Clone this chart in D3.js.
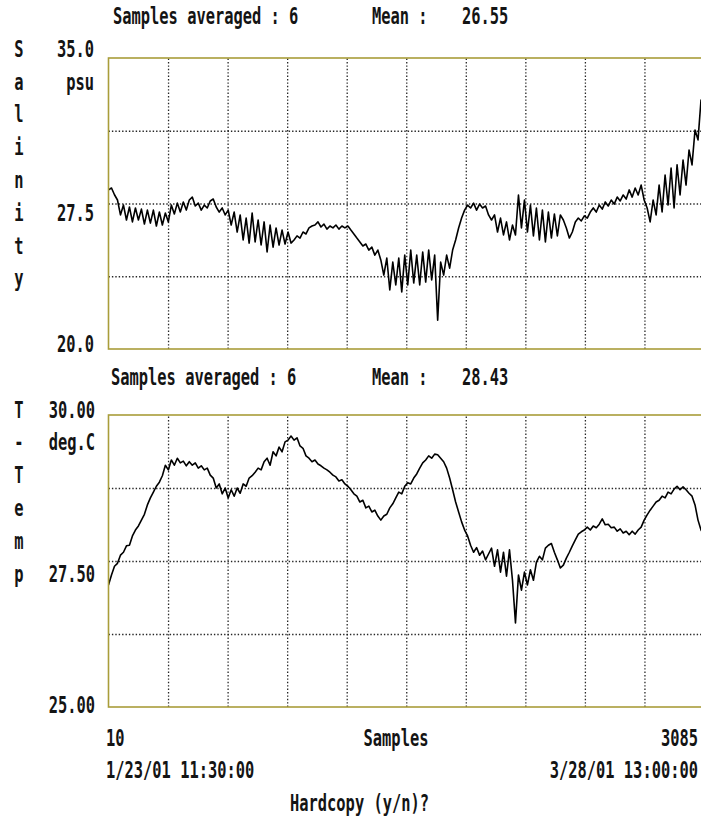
<!DOCTYPE html>
<html><head><meta charset="utf-8">
<script src="https://cdn.jsdelivr.net/npm/d3@7"></script>
<style>body{margin:0;background:#fff;} svg{display:block}</style>
</head><body>
<svg id="c" width="701" height="820"></svg>
<script>
// ---------- data ----------
const sampleRange = [10, 3085];
const startDate = "1/23/01 11:30:00";
const endDate = "3/28/01 13:00:00";
const salinityTicks = ["35.0", "27.5", "20.0"];
const temperatureTicks = ["30.00", "27.50", "25.00"];
const salinityLetters = ["S","a","l","i","n","i","t","y"];
const temperatureLetters = ["T","-","T","e","m","p"];
const headerAveraged = ["6", "6"];
const headerMean = ["26.55", "28.43"];

const salinity = [
28.20,28.30,27.95,27.68,26.91,27.42,26.65,27.32,26.55,27.27,
26.65,27.21,26.44,27.16,26.49,27.16,26.34,27.06,26.39,27.01,
26.55,27.42,26.96,27.52,27.06,27.58,27.16,27.68,27.83,27.37,
27.52,27.16,27.42,27.27,27.63,27.73,27.32,27.06,27.27,26.91,
27.16,26.39,27.06,26.03,26.91,25.62,26.75,25.46,27.01,25.52,
26.65,25.36,26.55,25.00,26.39,25.25,26.24,25.36,26.13,25.41,
26.03,25.46,25.62,25.83,25.72,26.03,25.93,26.24,26.34,26.39,
26.55,26.29,26.44,26.18,26.34,26.24,26.39,26.18,26.34,26.24,
26.34,26.13,25.93,25.72,25.52,25.31,25.41,25.10,25.25,24.84,
25.10,24.59,23.81,24.69,23.04,24.48,23.30,24.69,22.94,24.84,
23.30,25.10,23.40,24.84,23.30,25.00,23.45,25.10,23.56,24.84,
21.49,24.48,23.81,24.84,24.17,25.10,25.62,26.24,26.75,27.16,
27.42,27.27,27.52,27.16,27.47,27.27,27.37,26.91,26.65,26.91,
26.03,26.75,25.88,26.55,25.62,26.39,25.88,27.94,26.24,27.68,
26.03,27.42,25.83,27.27,25.62,27.16,25.52,27.06,25.72,26.96,
25.83,26.91,26.65,26.24,25.72,26.03,26.55,26.75,26.60,26.86,
26.75,27.06,27.27,27.06,27.42,27.21,27.58,27.37,27.68,27.47,
27.83,27.63,27.94,27.73,28.20,27.83,28.30,27.94,28.45,27.68,
27.27,26.55,27.68,26.91,28.45,27.06,28.97,27.42,29.33,27.27,
29.49,27.94,29.74,28.45,30.26,29.49,31.29,30.78,32.83,32.32
];

const temperature = [
27.09,27.26,27.41,27.46,27.60,27.65,27.76,27.77,27.93,28.03,
28.10,28.20,28.30,28.46,28.58,28.68,28.78,28.85,28.96,29.14,
29.06,29.23,29.14,29.26,29.18,29.21,29.13,29.20,29.14,29.18,
29.09,29.13,29.06,29.09,28.97,28.92,28.75,28.82,28.65,28.75,
28.58,28.72,28.61,28.75,28.66,28.82,28.78,28.92,28.96,29.02,
29.09,29.06,29.20,29.26,29.14,29.37,29.30,29.45,29.37,29.54,
29.57,29.64,29.57,29.61,29.47,29.43,29.30,29.26,29.20,29.23,
29.16,29.13,29.09,29.06,29.02,28.97,28.94,28.87,28.89,28.82,
28.78,28.72,28.65,28.61,28.51,28.54,28.41,28.44,28.34,28.37,
28.27,28.20,28.27,28.30,28.41,28.48,28.58,28.68,28.65,28.78,
28.84,28.82,28.92,28.99,29.09,29.18,29.23,29.30,29.26,29.33,
29.32,29.26,29.20,29.09,28.92,28.72,28.51,28.34,28.17,28.03,
27.93,27.77,27.65,27.73,27.60,27.67,27.52,27.62,27.72,27.41,
27.69,27.31,27.65,27.24,27.69,27.17,26.44,27.26,27.00,27.31,
27.09,27.35,27.17,27.48,27.58,27.52,27.72,27.77,27.80,27.65,
27.52,27.38,27.43,27.55,27.65,27.76,27.86,27.96,28.00,28.03,
28.08,28.03,28.10,28.07,28.13,28.22,28.12,28.13,28.07,28.08,
28.01,28.05,27.98,28.01,27.95,28.01,27.96,28.03,28.08,28.20,
28.29,28.37,28.44,28.51,28.54,28.61,28.58,28.68,28.65,28.73,
28.78,28.72,28.77,28.72,28.66,28.61,28.46,28.20,28.03,27.95
];

// ---------- layout ----------
const svg = d3.select("#c");
const FONT = "'DejaVu Sans Mono', monospace";
const X0 = 108.5, X1 = 704;
const ROW = 32.8;                       // text row pitch of the screen
const rowBase = r => ROW * (r + 0.5) + 7.5;
const x = d3.scaleLinear().domain(sampleRange).range([X0, X1]);
const gridSamples = d3.range(1, 10).map(k => sampleRange[0] + k * (sampleRange[1] - sampleRange[0]) / 10);

function txt(s, px, row, anchor) {
  svg.append("text")
    .attr("transform", `translate(${px},${rowBase(row)}) scale(1,1.5)`)
    .attr("text-anchor", anchor || "start")
    .attr("font-family", FONT)
    .attr("font-size", 15.4)
    .attr("font-weight", "bold")
    .attr("fill", "#141414")
    .text(s);
}

function panel(cfg) {
  const y = d3.scaleLinear().domain(cfg.domain).range([cfg.bottom, cfg.top]);
  const w = X1 - X0, h = cfg.bottom - cfg.top;
  const g = svg.append("g");
  const clipId = "clip" + cfg.id;
  svg.append("clipPath").attr("id", clipId)
    .append("rect").attr("x", X0).attr("y", cfg.top).attr("width", w).attr("height", h);

  const ya = g.append("g").attr("transform", `translate(${X0},0)`)
    .call(d3.axisLeft(y).tickValues(cfg.hGrid).tickSize(-w).tickFormat(""));
  ya.select(".domain").remove();
  ya.selectAll("line").attr("stroke", "#000").attr("stroke-width", 1.3)
    .attr("stroke-dasharray", "1.4,2").attr("opacity", 0.85);

  const xa = g.append("g").attr("transform", `translate(0,${cfg.bottom})`)
    .call(d3.axisBottom(x).tickValues(gridSamples).tickSize(-h).tickFormat(""));
  xa.select(".domain").remove();
  xa.selectAll("line").attr("stroke", "#000").attr("stroke-width", 1.3)
    .attr("stroke-dasharray", "1.4,2").attr("opacity", 0.85);

  const idx = d3.scaleLinear().domain([0, cfg.values.length - 1]).range(sampleRange);
  g.append("path").datum(cfg.values)
    .attr("clip-path", `url(#${clipId})`)
    .attr("fill", "none").attr("stroke", "#000").attr("stroke-width", 1.6)
    .attr("stroke-linejoin", "round")
    .attr("d", d3.line().x((d, i) => x(idx(i))).y(d => y(d)));

  g.append("rect").attr("x", X0).attr("y", cfg.top).attr("width", w).attr("height", h)
    .attr("fill", "none").attr("stroke", "#a99d3a").attr("stroke-width", 1.6);
  return y;
}

panel({id: 1, domain: [20, 35], top: 58, bottom: 349, hGrid: [23.75, 27.5, 31.25], values: salinity});
panel({id: 2, domain: [25, 30], top: 415, bottom: 707, hGrid: [26.25, 27.5, 28.75], values: temperature});

// headers (rows 0 and 11)
txt("Samples averaged : " + headerAveraged[0], 113, 0);
txt("Mean :", 372, 0);
txt(headerMean[0], 462, 0);
txt("Samples averaged : " + headerAveraged[1], 111, 11);
txt("Mean :", 372, 11);
txt(headerMean[1], 462, 11);

// vertical axis names, one letter per row
salinityLetters.forEach((c, i) => txt(c, 19, 1 + i, "middle"));
temperatureLetters.forEach((c, i) => txt(c, 19, 12 + i, "middle"));

// value labels
txt(salinityTicks[0], 94, 1, "end");
txt("psu", 94, 2, "end");
txt(salinityTicks[1], 94, 6, "end");
txt(salinityTicks[2], 94, 10, "end");
txt(temperatureTicks[0], 95, 12, "end");
txt("deg.C", 95, 13, "end");
txt(temperatureTicks[1], 95, 17, "end");
txt(temperatureTicks[2], 95, 21, "end");

// bottom labels
txt(String(sampleRange[0]), 106, 22);
txt("Samples", 396, 22, "middle");
txt(String(sampleRange[1]), 698, 22, "end");
txt(startDate, 106, 23);
txt(endDate, 698, 23, "end");
txt("Hardcopy (y/n)?", 290, 24);
</script>
</body></html>
